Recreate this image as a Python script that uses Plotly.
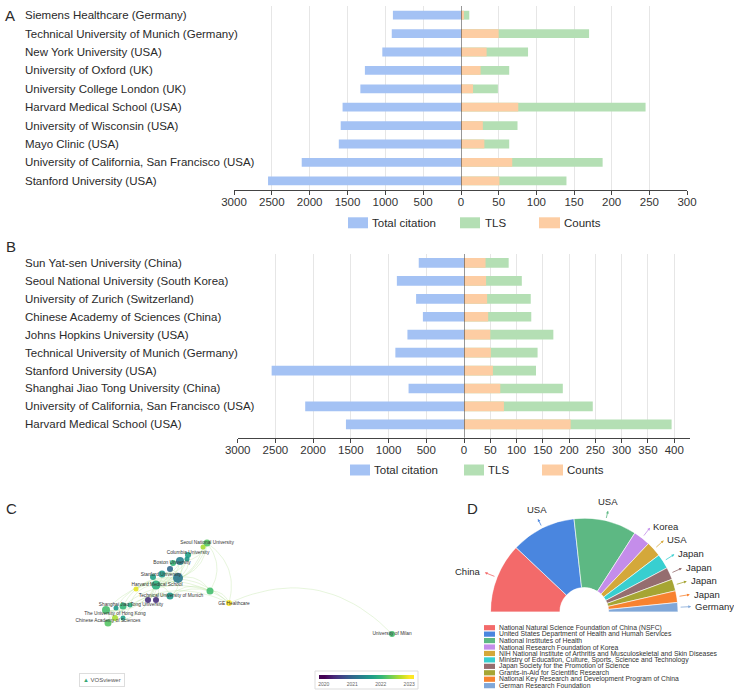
import math
import numpy as np
import plotly.graph_objects as go

W, H = 734, 692
FONT = "Liberation Sans, Arial, Helvetica, sans-serif"

# ---------------- data: panel A ----------------
a_orgs = ["Siemens Healthcare (Germany)", "Technical University of Munich (Germany)",
          "New York University (USA)", "University of Oxford (UK)",
          "University College London (UK)", "Harvard Medical School (USA)",
          "University of Wisconsin (USA)", "Mayo Clinic (USA)",
          "University of California, San Francisco (USA)", "Stanford University (USA)"]
a_citation = [900, 915, 1040, 1270, 1330, 1565, 1590, 1615, 2105, 2550]
a_tls = [11, 170, 89, 64, 49, 245, 75, 64, 188, 140]
a_counts = [4, 50, 34, 26, 16, 76, 29, 31, 68, 51]
a_left_ticks = [500, 1000, 1500, 2000, 2500, 3000]
a_right_ticks = [0, 50, 100, 150, 200, 250, 300]

# ---------------- data: panel B ----------------
b_orgs = ["Sun Yat-sen University (China)", "Seoul National University (South Korea)",
          "University of Zurich (Switzerland)", "Chinese Academy of Sciences (China)",
          "Johns Hopkins University (USA)", "Technical University of Munich (Germany)",
          "Stanford University (USA)", "Shanghai Jiao Tong University (China)",
          "University of California, San Francisco (USA)", "Harvard Medical School (USA)"]
b_citation = [600, 890, 635, 545, 750, 910, 2550, 735, 2105, 1565]
b_tls = [85, 110, 127, 128, 170, 140, 137, 188, 245, 395]
b_counts = [41, 42, 44, 46, 50, 51, 55, 69, 76, 203]
b_left_ticks = [500, 1000, 1500, 2000, 2500, 3000]
b_right_ticks = [0, 50, 100, 150, 200, 250, 300, 350, 400]

legend_names = ["Total citation", "TLS", "Counts"]

# ---------------- data: panel C (VOSviewer map, image coords) ----------------
c_node_x = [207, 203, 188, 187, 173, 180, 170, 162, 178, 153, 156, 136, 148, 156, 170,
            210, 229, 123, 130, 116, 106, 115, 123, 108, 392]
c_node_y = [543, 547, 555, 559, 563, 561, 569, 574, 578, 577, 585, 589, 600, 600, 596,
            591, 603, 606, 605, 608, 610, 618, 618, 623, 634]
c_node_size = [7, 5, 6, 5, 6, 8, 6, 7, 10, 6, 9, 5, 6, 6, 7, 7, 6, 7, 5, 5, 8, 6, 5, 7, 6]
c_node_year = [2022.2, 2022.6, 2021.7, 2021.6, 2022.0, 2021.3, 2021.0, 2021.6, 2021.2,
               2021.7, 2021.9, 2022.9, 2020.4, 2020.4, 2021.6, 2022.1, 2023.0, 2022.0,
               2021.8, 2021.6, 2022.1, 2022.6, 2021.7, 2022.2, 2022.1]
c_edges = [(0, 2), (0, 5), (0, 8), (0, 10), (0, 15), (0, 16), (1, 10), (2, 5), (2, 8),
           (2, 10), (3, 7), (4, 10), (5, 8), (5, 10), (5, 7), (6, 8), (7, 10), (7, 8),
           (8, 10), (8, 14), (8, 15), (9, 10), (10, 14), (10, 12), (10, 13), (10, 17),
           (10, 20), (10, 23), (11, 10), (12, 14), (13, 14), (14, 15), (14, 16), (15, 16),
           (17, 20), (17, 23), (18, 10), (19, 20), (20, 23), (21, 23), (22, 14), (23, 8),
           (23, 15), (20, 15), (17, 8), (16, 24), (11, 16), (23, 16)]
c_labels = ["Seoul National University", "Columbia University", "Boston University",
            "Stanford University", "Harvard Medical School", "Technical University of Munich",
            "Shanghai Jiao Tong University", "The University of Hong Kong",
            "Chinese Academy of Sciences", "GE Healthcare", "University of Milan"]
c_label_x = [207, 188, 172, 161, 157, 171, 131, 115, 108, 234, 392]
c_label_y = [543, 553, 563, 575, 585, 596, 605, 614, 621, 604, 634]
c_years = [2020, 2021, 2022, 2023]

# ---------------- data: panel D ----------------
d_countries = ["China", "USA", "USA", "Korea", "USA", "Japan", "Japan", "Japan", "Japan", "Germany"]
d_values = [30, 28, 27, 7.3, 6.6, 6.4, 5.3, 5.1, 5.0, 4.0]
d_funders = ["National Natural Science Foundation of China (NSFC)",
             "United States Department of Health and Human Services",
             "National Institutes of Health",
             "National Research Foundation of Korea",
             "NIH National Institute of Arthritis and Musculoskeletal and Skin Diseases",
             "Ministry of Education, Culture, Sports, Science and Technology",
             "Japan Society for the Promotion of Science",
             "Grants-in-Aid for Scientific Research",
             "National Key Research and Development Program of China",
             "German Research Foundation"]
d_colors = ["#F36A6A", "#4A86DF", "#5DB883", "#C48DEA", "#D4A83A", "#38CFD0",
            "#956D6F", "#A6A533", "#F8822F", "#80A7D8"]

BLUE, GREEN, ORANGE = "#A4C2F4", "#B4DFB4", "#FDCDA3"
TXT = "#2a2a2a"


def px(x):
    return x / W


def py(y):
    return 1 - y / H


fig = go.Figure()
shapes, annos = [], []


def add_bars(xl, xr, ya, orgs, cit, tls, cnt, w):
    fig.add_trace(go.Bar(y=orgs, x=cit, orientation="h", xaxis=xl, yaxis=ya, width=w,
                         marker=dict(color=BLUE, line_width=0), name=legend_names[0],
                         showlegend=False, hoverinfo="x+y"))
    fig.add_trace(go.Bar(y=orgs, x=tls, orientation="h", xaxis=xr, yaxis=ya, width=w,
                         marker=dict(color=GREEN, line_width=0), name=legend_names[1],
                         showlegend=False, hoverinfo="x+y"))
    fig.add_trace(go.Bar(y=orgs, x=cnt, orientation="h", xaxis=xr, yaxis=ya, width=w,
                         marker=dict(color=ORANGE, line_width=0), name=legend_names[2],
                         showlegend=False, hoverinfo="x+y"))
    for o in orgs:
        annos.append(dict(x=px(23), xref="paper", y=o, yref=ya, text=o, showarrow=False,
                          xanchor="left", yanchor="middle",
                          font=dict(size=11.5, color=TXT)))


add_bars("x", "x2", "y", a_orgs, a_citation, a_tls, a_counts, 0.48)
add_bars("x3", "x4", "y2", b_orgs, b_citation, b_tls, b_counts, 0.54)

# zero lines
shapes.append(dict(type="line", xref="x2", yref="y domain", x0=0, x1=0, y0=0, y1=1,
                   line=dict(color="#333", width=1)))
shapes.append(dict(type="line", xref="x4", yref="y2 domain", x0=0, x1=0, y0=0, y1=1,
                   line=dict(color="#333", width=1)))


def add_legend(yc, items):
    cols = [BLUE, GREEN, ORANGE]
    for (x0, x1, xt), col, name in zip(items, cols, legend_names):
        shapes.append(dict(type="rect", xref="paper", yref="paper", x0=px(x0), x1=px(x1),
                           y0=py(yc + 5.5), y1=py(yc - 5.5), fillcolor=col, line_width=0))
        annos.append(dict(x=px(xt), y=py(yc), xref="paper", yref="paper", text=name,
                          showarrow=False, xanchor="left", yanchor="middle",
                          font=dict(size=11.5, color=TXT)))


add_legend(222.8, [(348, 368, 370), (460, 480, 483), (539, 560, 562)])
add_legend(470, [(350, 370, 372), (464, 484, 486), (542, 563, 565)])

# ---------------- panel C ----------------
ex, ey = [], []
for i, j in c_edges:
    x0, y0, x1, y1 = c_node_x[i], c_node_y[i], c_node_x[j], c_node_y[j]
    dx, dy = x1 - x0, y1 - y0
    L = math.hypot(dx, dy)
    nx, ny = dy / L, -dx / L
    cx, cy = (x0 + x1) / 2 + 0.35 * L * nx, (y0 + y1) / 2 + 0.35 * L * ny
    t = np.linspace(0, 1, 24)
    bx = (1 - t) ** 2 * x0 + 2 * (1 - t) * t * cx + t ** 2 * x1
    by = (1 - t) ** 2 * y0 + 2 * (1 - t) * t * cy + t ** 2 * y1
    ex += list(bx) + [None]
    ey += list(by) + [None]
fig.add_trace(go.Scatter(x=ex, y=ey, mode="lines", xaxis="x5", yaxis="y5",
                         line=dict(color="rgba(175,220,140,0.5)", width=0.6),
                         hoverinfo="skip", showlegend=False))
fig.add_trace(go.Scatter(x=c_node_x, y=c_node_y, mode="markers", xaxis="x5", yaxis="y5",
                         marker=dict(size=c_node_size, color=c_node_year, colorscale="Viridis",
                                     cmin=2020, cmax=2023, opacity=0.9, line_width=0,
                                     showscale=False),
                         hoverinfo="skip", showlegend=False))
fig.add_trace(go.Scatter(x=c_label_x, y=c_label_y, mode="text", text=c_labels,
                         xaxis="x5", yaxis="y5", textposition="middle center",
                         textfont=dict(size=4.8, color="#333"), hoverinfo="skip",
                         showlegend=False))
# colour scale bar (years) as a small heatmap
fig.add_trace(go.Heatmap(x=c_years, y=[0], z=[c_years], colorscale="Viridis", zmin=2020,
                         zmax=2023, zsmooth="best", showscale=False, xaxis="x6",
                         yaxis="y6", hoverinfo="skip"))
shapes.append(dict(type="rect", xref="paper", yref="paper", x0=px(315), x1=px(418),
                   y0=py(689), y1=py(671), fillcolor="white",
                   line=dict(color="#dddddd", width=1), layer="below"))
annos.append(dict(x=px(102), y=py(680), xref="paper", yref="paper", xanchor="center",
                  yanchor="middle",
                  text="<span style='color:#3aa876'>▲</span> VOSviewer", showarrow=False,
                  font=dict(size=6, color="#555"), bordercolor="#dddddd", borderwidth=1,
                  borderpad=3, bgcolor="white"))

# ---------------- panel D ----------------
d_total = sum(d_values)
d_width = [v / d_total * 180 for v in d_values]
d_theta = list(np.cumsum(d_width) - np.array(d_width) / 2)
fig.add_trace(go.Barpolar(r=[1] * len(d_values), theta=d_theta, width=d_width,
                          marker=dict(color=d_colors, line=dict(color="white", width=0.6)),
                          text=d_funders, hoverinfo="text", subplot="polar", showlegend=False))
CX, CY, R = 584.25, 612, 94
for name, th, col in zip(d_countries, d_theta, d_colors):
    phi = math.radians(180 - th)
    c, s = math.cos(phi), math.sin(phi)
    if abs(c) < 0.5:
        rt, xa, ya_ = 106, "center", "bottom"
        rh = 104
    else:
        rt, xa, ya_ = 109, ("left" if c > 0 else "right"), "middle"
        rh = 107
    annos.append(dict(x=px(CX + rt * c), y=py(CY - rt * s), xref="paper", yref="paper",
                      text=name, showarrow=False, xanchor=xa, yanchor=ya_,
                      font=dict(size=9.5, color=TXT)))
    L = rh - 95
    annos.append(dict(x=px(CX + rh * c), y=py(CY - rh * s), xref="paper", yref="paper",
                      text="", showarrow=True, ax=-L * c, ay=L * s, arrowhead=2,
                      arrowsize=0.7, arrowwidth=0.8, arrowcolor=col))

for k, (fund, col) in enumerate(zip(d_funders, d_colors)):
    yc = 627.7 + k * 6.44
    shapes.append(dict(type="rect", xref="paper", yref="paper", x0=px(484), x1=px(495),
                       y0=py(yc + 2.6), y1=py(yc - 2.6), fillcolor=col, line_width=0))
    annos.append(dict(x=px(497), y=py(yc), xref="paper", yref="paper", text=fund,
                      showarrow=False, xanchor="left", yanchor="middle",
                      font=dict(size=6.8, color="#333")))

# panel letters
for letter, lx, ly in [("A", 3, 15), ("B", 4, 247), ("C", 4, 508), ("D", 465, 508)]:
    annos.append(dict(x=px(lx), y=py(ly), xref="paper", yref="paper", text=letter,
                      showarrow=False, xanchor="left", yanchor="middle",
                      font=dict(size=15, color=TXT)))

common_x = dict(showline=True, linecolor="#444", linewidth=1, ticks="outside", ticklen=4,
                tickcolor="#444", tickfont=dict(size=11.5, color="#333"), showgrid=True,
                gridcolor="#E6E6E6", gridwidth=1, zeroline=False, fixedrange=True,
                automargin=False, ticklabelstandoff=-3)
common_y = dict(type="category", showticklabels=False, showgrid=False, zeroline=False,
                showline=False, ticks="", fixedrange=True, automargin=False)

fig.update_layout(
    width=W, height=H, margin=dict(l=0, r=0, t=0, b=0, autoexpand=False),
    paper_bgcolor="white", plot_bgcolor="white", barmode="overlay",
    font=dict(family=FONT, color=TXT), showlegend=False,
    xaxis=dict(domain=[px(234), px(461)], range=[3000, 0], tickvals=a_left_ticks,
               anchor="y", **common_x),
    xaxis2=dict(domain=[px(461), px(687)], range=[0, 300], tickvals=a_right_ticks,
                anchor="y", **common_x),
    yaxis=dict(domain=[py(190), py(6)], range=[9.5, -0.5], categoryorder="array",
               categoryarray=a_orgs, anchor="x", **common_y),
    xaxis3=dict(domain=[px(237.7), px(464)], range=[3000, 0], tickvals=b_left_ticks,
                anchor="y2", **common_x),
    xaxis4=dict(domain=[px(464), px(690)], range=[0, 430], tickvals=b_right_ticks,
                anchor="y2", **common_x),
    yaxis2=dict(domain=[py(437.7), py(254)], range=[9.745, -0.5], categoryorder="array",
                categoryarray=b_orgs, anchor="x3", **common_y),
    xaxis5=dict(domain=[0, px(460)], range=[0, 460], visible=False, anchor="y5",
                fixedrange=True),
    yaxis5=dict(domain=[0, py(484)], range=[692, 484], visible=False, anchor="x5",
                fixedrange=True),
    xaxis6=dict(domain=[px(319), px(414)], range=[2019.83, 2023.17], tickvals=c_years,
                ticks="", showline=False, showgrid=False, zeroline=False, anchor="y6",
                tickfont=dict(size=5, color="#666"), ticklabelstandoff=1, fixedrange=True),
    yaxis6=dict(domain=[py(679), py(675)], range=[-0.5, 0.5], visible=False, anchor="x6",
                fixedrange=True),
    polar=dict(domain=dict(x=[px(490.5), px(678)], y=[py(612), py(518)]),
               sector=[0, 180], hole=0.26, bgcolor="rgba(0,0,0,0)",
               radialaxis=dict(visible=False, range=[0, 1]),
               angularaxis=dict(visible=False, rotation=180, direction="clockwise")),
    shapes=shapes, annotations=annos,
)

fig.write_html("out.html", config={"displayModeBar": False},
               post_script="document.body.style.margin='0px';")
